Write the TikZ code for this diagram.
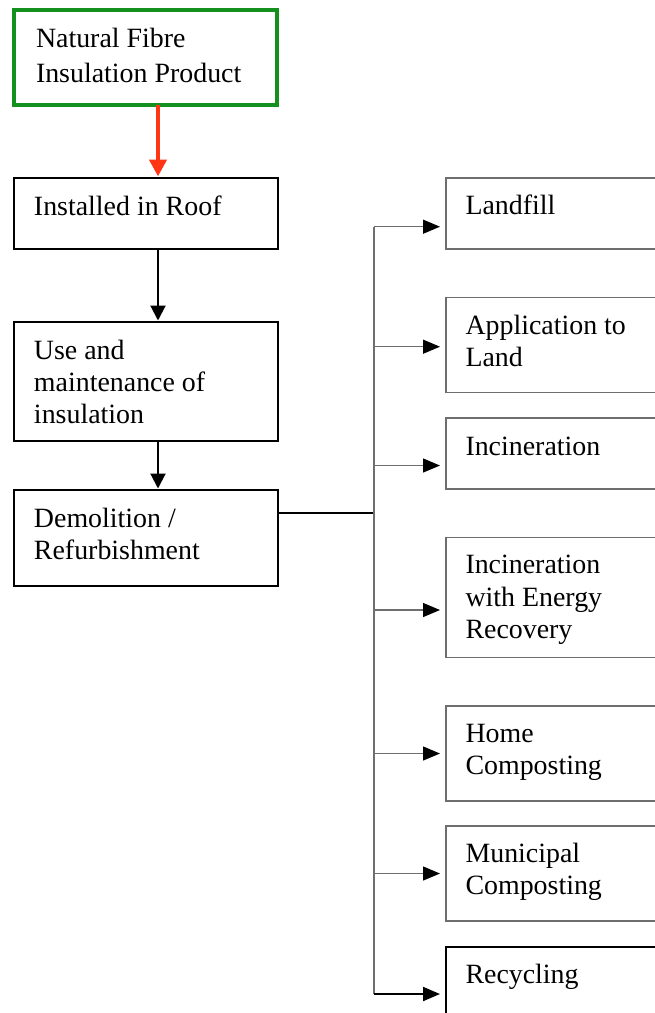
\documentclass[tikz,border=0pt]{standalone}
\usepackage{fontspec}
\setmainfont{Liberation Serif}
\usetikzlibrary{arrows.meta}
\definecolor{boxgreen}{HTML}{14901E}
\definecolor{flowred}{HTML}{FF3514}
\definecolor{thingray}{HTML}{6E6E6E}
\begin{document}
\begin{tikzpicture}[x=1pt,y=-1pt,
  every node/.style={inner sep=0pt, outer sep=0pt},
  box/.style={draw=black, line width=2pt, rectangle, anchor=north west},
  greenbox/.style={draw=boxgreen, line width=4.5pt, rectangle, anchor=north west},
  outbox/.style={draw=thingray, line width=1.3pt, rectangle, anchor=north west},
  % labels are placed by the baseline of their last line
  lbl/.style={anchor=base west, align=left, yshift=-1.5pt,
    font=\fontsize{27.9}{32.3}\selectfont},
  down/.style={draw=black, line width=2pt, -{Triangle[length=15pt,width=15pt]}, shorten >=1.5pt},
  redarrow/.style={draw=flowred, line width=4.5pt, -{Triangle[length=17pt,width=17pt]}, shorten >=1.5pt},
  branch/.style={draw=thingray, line width=1.3pt,
    -{Triangle[length=17pt,width=14pt,color=black]}, shorten >=6pt},
  trunk/.style={draw=thingray, line width=1.3pt},
  feed/.style={draw=black, line width=2pt}
]
\useasboundingbox (0,0) rectangle (655,1013);
\clip (0,0) rectangle (655,1013);

% left column
\node[greenbox, minimum width=263pt, minimum height=95pt] (nat) at (14,10) {};
\node[lbl, font=\fontsize{27.9}{34.5}\selectfont] (natT) at (36,80.7) {Natural Fibre\\Insulation Product};

\node[box, minimum width=264pt, minimum height=71pt] (roof) at (14,178) {};
\node[lbl] (roofT) at (34,213.5) {Installed in Roof};

\node[box, minimum width=264pt, minimum height=119pt] (use) at (14,322) {};
\node[lbl] (useT) at (34,422.3) {Use and\\maintenance of\\insulation};

\node[box, minimum width=264pt, minimum height=96pt] (demo) at (14,490) {};
\node[lbl] (demoT) at (34,558) {Demolition /\\Refurbishment};

% right column (boxes run past the right edge)
\node[outbox, minimum width=260pt, minimum height=71pt] (land) at (446,178) {};
\node[lbl] (landT) at (465.5,213.3) {Landfill};

\node[outbox, minimum width=260pt, minimum height=95pt] (appl) at (446,297.7) {};
\node[lbl] (applT) at (465.5,365.3) {Application to\\Land};

\node[outbox, minimum width=260pt, minimum height=71pt] (inc) at (446,418) {};
\node[lbl] (incT) at (465.5,453.5) {Incineration};

\node[outbox, minimum width=260pt, minimum height=120pt] (ener) at (446,537.5) {};
\node[lbl] (enerT) at (465.5,637) {Incineration\\with Energy\\Recovery};

\node[outbox, minimum width=260pt, minimum height=95pt] (home) at (446,706) {};
\node[lbl] (homeT) at (465.5,773.2) {Home\\Composting};

\node[outbox, minimum width=260pt, minimum height=95pt] (muni) at (446,826) {};
\node[lbl] (muniT) at (465.5,892.8) {Municipal\\Composting};

\node[box, minimum width=260pt, minimum height=100pt] (recy) at (446,946.7) {};
\node[lbl] (recyT) at (465.5,982) {Recycling};

% main flow
\draw[redarrow] (nat.south -| 158,0) -- (roof.north -| 158,0);
\draw[down] (roof.south -| 158,0) -- (use.north -| 158,0);
\draw[down] (use.south -| 158,0) -- (demo.north -| 158,0);

% distribution trunk
\coordinate (b1) at (374,226.7);
\coordinate (b2) at (374,346.7);
\coordinate (b3) at (374,465.5);
\coordinate (bd) at (374,513.4);
\coordinate (b4) at (374,610);
\coordinate (b5) at (374,753.5);
\coordinate (b6) at (374,873.5);
\coordinate (b7) at (374,994);

\draw[feed] (demo.east |- bd) -- (bd);
\draw[trunk] (b1) -- (b7);
\draw[branch] (b1) -- (b1 -| land.west);
\draw[branch] (b2) -- (b2 -| appl.west);
\draw[branch] (b3) -- (b3 -| inc.west);
\draw[branch] (b4) -- (b4 -| ener.west);
\draw[branch] (b5) -- (b5 -| home.west);
\draw[branch] (b6) -- (b6 -| muni.west);
\draw[feed, -{Triangle[length=17pt,width=14pt]}, shorten >=6pt] (b7) -- (b7 -| recy.west);
\end{tikzpicture}
\end{document}
